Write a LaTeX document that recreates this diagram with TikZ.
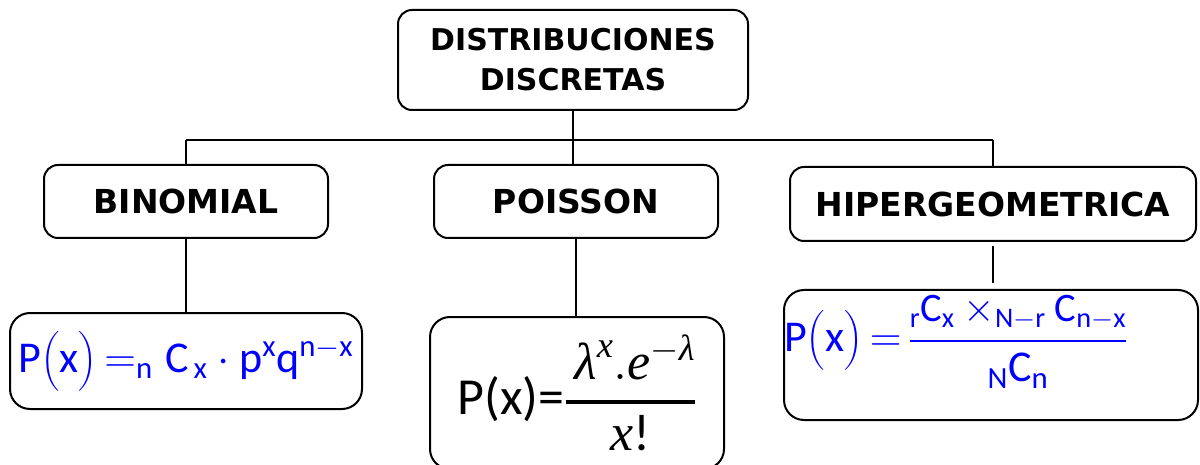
\RequirePackage{fix-cm}
\documentclass[tikz,border=0pt]{standalone}
\usepackage{amsmath}
\usepackage{fontspec}
\usepackage{xcolor}
\usetikzlibrary{positioning,calc}
\newfontfamily\headfont{DejaVu Sans}
\newfontfamily\formfont{Carlito}
\newfontfamily\mathletter{Liberation Serif}
\definecolor{FormBlue}{RGB}{0,0,255}
\newcommand{\tx}[1]{\text{#1}}
\newcommand{\ml}[1]{\text{\mathletter\itshape #1}}
\begin{document}
\begin{tikzpicture}[
  x=1pt,y=-1pt,
  box/.style={rounded corners=14pt,draw=black,line width=2pt,align=center,
              inner sep=0pt,fill=white},
  head/.style={box,font=\headfont\bfseries\fontsize{33}{40}\selectfont},
  formula/.style={box,rounded corners=20pt,font=\formfont\fontsize{44}{48}\selectfont},
  link/.style={line width=2pt,draw=black}
]
\useasboundingbox (0,0) rectangle (1200,465);
% title and the three families
\node[head,minimum width=350pt,minimum height=100pt,
      font=\headfont\bfseries\fontsize{30}{40}\selectfont] (root) at (573,60)
 {DISTRIBUCIONES\\DISCRETAS};
\node[head,minimum width=284pt,minimum height=73pt] (binom) at (186,201.5) {BINOMIAL};
\node[head,minimum width=284pt,minimum height=73pt] (poisson) at (576,201.5) {POISSON};
\node[head,minimum width=406pt,minimum height=74pt] (hiper) at (993,204) {HIPERGEOMETRICA};
% formulas
\node[formula,minimum width=352pt,minimum height=96pt,text=FormBlue] (fbinom) at (186,361)
 {$\tx{P}\bigl(\tx{x}\bigr)\,{=}_{\tx{n}}\;\tx{C}_{\,\tx{x}}\cdot\tx{p}^{\tx{x}}\tx{q}^{\tx{n}-\tx{x}}$};
\node[formula,minimum width=294pt,minimum height=152pt,
      font=\formfont\fontsize{52}{56}\selectfont] (fpoisson) at (577,393)
 {P(x)=$\genfrac{}{}{3.5pt}{0}{\,\ml{λ}^{\ml{x}}.\ml{e}^{-\ml{λ}}}{\ml{x}\tx{!}}$};
\node[formula,minimum width=414pt,minimum height=130pt,text width=414pt,align=left,
      text=FormBlue] (fhiper) at (991,355)
 {$\tx{P}\bigl(\tx{x}\bigr)\,{=}\,\genfrac{}{}{2pt}{0}{\scalebox{0.92}{${}_{\tx{r}}\tx{C}_{\tx{x}}\times_{\tx{N}-\tx{r}}\tx{C}_{\tx{n}-\tx{x}}$}}{{}_{\tx{N}}\tx{C}_{\tx{n}}}$\rule[-63pt]{0pt}{0pt}};
% connectors
\coordinate (bar) at (574,140);
\draw[link] (root.south) -- (root.south |- poisson.north);
\draw[link] (binom.north |- bar) -- (hiper.north |- bar);
\draw[link] (binom.north |- bar) -- (binom.north);
\draw[link] (hiper.north |- bar) -- (hiper.north);
\draw[link] (binom.south) -- (binom.south |- fbinom.north);
\draw[link] (poisson.south) -- (poisson.south |- fpoisson.north);
\draw[link,shorten <=4pt,shorten >=6pt] (hiper.south) -- (hiper.south |- fhiper.north);
\end{tikzpicture}
\end{document}
